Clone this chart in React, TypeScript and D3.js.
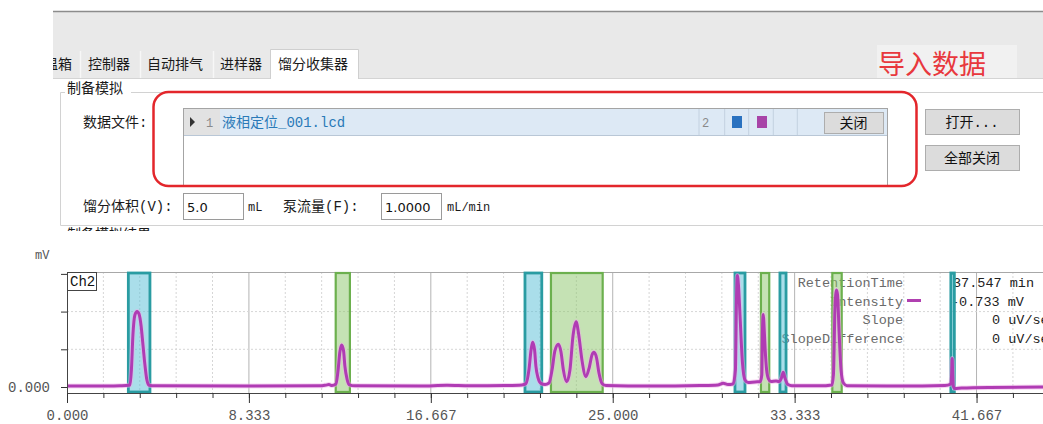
import * as React from 'react';
import {useEffect, useRef} from 'react';
import * as d3 from 'd3';

const W = 1043;
const H = 424;

// Ch2 trace, [min, mV]
const trace: [number, number][] = [
  [0.00, 0.5], [1.51, 0.5], [2.43, 0.7], [2.70, 0.8], [2.89, 1.1], [2.95, 9.0],
  [3.02, 27.6], [3.11, 38.2], [3.21, 40.1], [3.30, 38.7], [3.39, 32.9], [3.48, 22.3],
  [3.57, 11.7], [3.66, 3.7], [3.76, 0.9], [4.03, 0.6], [8.38, 0.5], [11.59, 0.6],
  [11.86, 1.0], [12.00, 1.3], [12.14, 0.8], [12.32, 1.6], [12.41, 8.0], [12.50, 18.6],
  [12.58, 22.3], [12.67, 19.1], [12.73, 11.1], [12.83, 4.2], [12.92, 1.3], [13.19, 0.6],
  [16.17, 0.5], [17.41, 0.9], [18.46, 0.6], [20.06, 0.8], [20.84, 1.1], [21.03, 1.9],
  [21.16, 9.0], [21.26, 19.6], [21.33, 23.7], [21.42, 19.6], [21.48, 11.1], [21.58, 4.8],
  [21.71, 1.9], [21.90, 1.3], [22.08, 2.1], [22.22, 9.0], [22.35, 19.1], [22.51, 22.7],
  [22.63, 18.6], [22.74, 9.0], [22.89, 2.8], [23.04, 9.0], [23.18, 27.1], [23.32, 34.6],
  [23.45, 27.1], [23.59, 14.3], [23.77, 5.5], [23.93, 10.6], [24.05, 17.0], [24.14, 18.4],
  [24.26, 15.4], [24.37, 7.4], [24.51, 1.9], [24.69, 0.8], [26.71, 0.5], [29.00, 0.8],
  [29.82, 1.1], [30.06, 2.0], [30.28, 1.3], [30.51, 1.6], [30.62, 9.0], [30.67, 46.2],
  [30.71, 59.2], [30.76, 54.1], [30.83, 38.2], [30.94, 13.3], [31.06, 3.7], [31.20, 2.4],
  [31.52, 2.7], [31.75, 2.8], [31.83, 6.4], [31.86, 30.2], [31.90, 38.5], [31.93, 32.9],
  [31.98, 20.7], [32.05, 9.0], [32.14, 4.2], [32.25, 2.9], [32.48, 3.2], [32.61, 2.9],
  [32.73, 4.8], [32.81, 7.8], [32.89, 4.8], [33.03, 1.3], [33.21, 0.7], [34.49, 0.6],
  [35.04, 1.1], [35.11, 6.4], [35.18, 40.8], [35.25, 51.5], [35.30, 48.8], [35.37, 29.3],
  [35.46, 9.0], [35.57, 2.1], [35.73, 0.7], [38.16, 0.5], [40.22, 0.8], [40.49, 1.6],
  [40.53, 8.0], [40.55, 15.1], [40.57, 8.0], [40.60, 0.5], [40.67, -0.8], [40.99, -0.5],
  [42.28, -0.2], [45.49, 0.0]
];

// fraction windows (min), b = blue, g = green
const fracStart = [2.81, 12.31, 20.98, 22.17, 30.60, 31.79, 32.66, 35.06, 40.49];
const fracEnd = [3.80, 12.96, 21.75, 24.54, 31.06, 32.17, 32.94, 35.49, 40.65];
const fracKind = ['b', 'g', 'b', 'g', 'b', 'g', 'b', 'g', 'b'];

const xTickValues = [0, 8.333, 16.667, 25, 33.333, 41.667];
const xTickLabels = ['0.000', '8.333', '16.667', '25.000', '33.333', '41.667'];
const yTickValues = [0, 20, 40, 60];
const yTickLabels = ['0.000', '', '', ''];

const tabNames = ['温箱', '控制器', '自动排气', '进样器', '馏分收集器'];
const legendLabels = ['RetentionTime', 'Intensity', 'Slope', 'SlopeDifference'];
const legendValues = ['37.547 min', '-0.733 mV', '0 uV/sec', '0 uV/sec'];

const cjk = "'Noto Sans CJK SC', sans-serif";
const mono = "'Liberation Mono', 'Noto Sans CJK SC', monospace";

const tabX = [44, 88, 147, 220, 278];
const tabSep = [80, 140, 213];
const gridCols = [699, 724.7, 748.7, 773.3, 797.3];
const legendValueX = [953, 951, 992, 992];

const Button = ({x, y, w, h, label}: any) => (
  <g>
    <rect x={x + 0.5} y={y + 0.5} width={w} height={h} fill="#dcdcdc" stroke="#adadad"/>
    <text x={x + w / 2} y={y + h / 2 + 5} textAnchor="middle" fontFamily={mono} fontSize={14} fill="#111">{label}</text>
  </g>
);

export default function App() {
  const ref = useRef<SVGGElement>(null);

  useEffect(() => {
    const g = d3.select(ref.current);
    g.selectAll('*').remove();

    const x = d3.scaleLinear().domain([0, 45.49]).range([67, 1060]);
    const y = d3.scaleLinear().domain([-3.18, 61.0]).range([393, 272]);
    const top = y.range()[1];
    const bottom = y.range()[0];

    const minor = d3.range(0, 28).map(i => i * 5 / 3);

    // grid
    g.append('g').selectAll('line')
      .data(minor.slice(1))
      .join('line')
      .attr('x1', d => x(d)).attr('x2', d => x(d))
      .attr('y1', top).attr('y2', bottom)
      .attr('stroke', (d, i) => (i + 1) % 5 === 0 ? '#b4b4b4' : '#d6d6d6')
      .attr('stroke-dasharray', (d, i) => (i + 1) % 5 === 0 ? null : '2,2');

    g.append('g').selectAll('line')
      .data(yTickValues.slice(1, 3))
      .join('line')
      .attr('x1', x(0)).attr('x2', W)
      .attr('y1', d => y(d)).attr('y2', d => y(d))
      .attr('stroke', '#d6d6d6')
      .attr('stroke-dasharray', '2,2');

    g.append('line')
      .attr('x1', x(0)).attr('x2', W)
      .attr('y1', top + 0.5).attr('y2', top + 0.5)
      .attr('stroke', '#a8a8a8');

    // cursor readout
    const leg = g.append('g').attr('font-family', mono).attr('font-size', 13.5);
    leg.selectAll('text.lbl')
      .data(legendLabels)
      .join('text')
      .attr('class', 'lbl')
      .attr('x', 903)
      .attr('y', (d, i) => 287 + i * 18.5)
      .attr('text-anchor', 'end')
      .attr('fill', '#6a6a6a')
      .text(d => d);
    leg.selectAll('text.val')
      .data(legendValues)
      .join('text')
      .attr('class', 'val')
      .attr('x', (d, i) => legendValueX[i])
      .attr('y', (d, i) => 287 + i * 18.5)
      .attr('fill', '#222')
      .text(d => d);
    leg.append('line')
      .attr('x1', 907).attr('x2', 921)
      .attr('y1', 300.5).attr('y2', 300.5)
      .attr('stroke', '#b040b0').attr('stroke-width', 3);

    // fraction windows
    g.append('g').selectAll('rect')
      .data(fracStart)
      .join('rect')
      .attr('x', d => x(d))
      .attr('y', top + 1)
      .attr('width', (d, i) => x(fracEnd[i]) - x(d))
      .attr('height', bottom - top - 2)
      .attr('fill', (d, i) => fracKind[i] === 'b' ? 'rgba(86,190,214,0.5)' : 'rgba(140,198,106,0.5)')
      .attr('stroke', (d, i) => fracKind[i] === 'b' ? '#2a9ca2' : '#6cb04e')
      .attr('stroke-width', (d, i) => fracKind[i] === 'b' ? 2.8 : 2.2);

    // trace
    const line = d3.line<[number, number]>()
      .x(d => x(d[0]))
      .y(d => y(d[1]))
      .curve(d3.curveMonotoneX);

    g.append('path')
      .datum(trace)
      .attr('d', line)
      .attr('fill', 'none')
      .attr('stroke', '#f0b0e8')
      .attr('stroke-width', 5)
      .attr('stroke-opacity', 0.5)
      .attr('stroke-linejoin', 'round');
    g.append('path')
      .datum(trace)
      .attr('d', line)
      .attr('fill', 'none')
      .attr('stroke', '#b03cb4')
      .attr('stroke-width', 3)
      .attr('stroke-linejoin', 'round');

    // axes
    const xMinor = g.append('g')
      .attr('transform', `translate(0,${bottom})`)
      .call(d3.axisBottom(x).tickValues(minor).tickSize(5).tickSizeOuter(0).tickFormat(() => ''));
    xMinor.select('.domain').attr('stroke', '#444');
    xMinor.selectAll('.tick line').attr('stroke', '#333');

    const xMajor = g.append('g')
      .attr('transform', `translate(0,${bottom})`)
      .call(d3.axisBottom(x).tickValues(xTickValues).tickSize(10).tickPadding(7)
        .tickFormat((d, i) => xTickLabels[i]));
    xMajor.select('.domain').remove();
    xMajor.selectAll('.tick line').attr('stroke', '#333');
    xMajor.selectAll('text')
      .attr('font-family', mono).attr('font-size', 14).attr('fill', '#555');

    const yAxis = g.append('g')
      .attr('transform', `translate(${x(0)},0)`)
      .call(d3.axisLeft(y).tickValues(yTickValues).tickSize(6).tickSizeOuter(0).tickPadding(11)
        .tickFormat((d, i) => yTickLabels[i]));
    yAxis.select('.domain').attr('stroke', '#444');
    yAxis.selectAll('.tick line').attr('stroke', '#333');
    yAxis.selectAll('text')
      .attr('font-family', mono).attr('font-size', 14).attr('fill', '#555');

    // channel tag
    g.append('rect')
      .attr('x', x(0) + 0.5).attr('y', top + 0.5)
      .attr('width', 29).attr('height', 18)
      .attr('fill', '#fff').attr('stroke', '#444');
    g.append('text')
      .attr('x', x(0) + 3).attr('y', top + 14)
      .attr('font-family', mono).attr('font-size', 14).attr('fill', '#111')
      .text('Ch2');
  }, []);

  return (
    <svg width={W} height={H} style={{position: 'absolute', left: 0, top: 0, background: '#fff'}}>
      <defs>
        <clipPath id="tabclip"><rect x={53} y={0} width={W} height={80}/></clipPath>
        <clipPath id="cutclip"><rect x={0} y={227} width={W} height={4}/></clipPath>
      </defs>

      {/* window strip and tabs */}
      <rect x={53} y={11} width={W - 53} height={67} fill="#e9e9e9"/>
      <line x1={53} x2={W} y1={11.5} y2={11.5} stroke="#8c8c8c" strokeWidth={1.5}/>
      <line x1={53} x2={W} y1={78.5} y2={78.5} stroke="#d4d4d4"/>
      <rect x={877} y={45} width={140} height={33} fill="#f1f1f1"/>
      <text x={878} y={74} fontFamily={cjk} fontSize={27} fill="#e8383d">导入数据</text>
      <g clipPath="url(#tabclip)">
        {tabSep.map((s, i) => (
          <line key={i} x1={s + 0.5} x2={s + 0.5} y1={51} y2={78} stroke="#f7f7f7" strokeWidth={1.5}/>
        ))}
        <path d="M270.5,79 V49.5 H358.5 V79" fill="#fff" stroke="#cfcfcf"/>
        {tabNames.map((t, i) => (
          <text key={t} x={tabX[i]} y={69} fontFamily={cjk} fontSize={14} fill="#1a1a1a">{t}</text>
        ))}
      </g>

      {/* group box */}
      <path d="M60.5,225.5 V92.5 H65 M131,92.5 H1043 M60.5,225.5 H1043" fill="none" stroke="#d2d2d2"/>
      <text x={67} y={93} fontFamily={cjk} fontSize={14} fill="#1a1a1a">制备模拟</text>
      <text x={83} y={127} fontFamily={mono} fontSize={14} fill="#1a1a1a">数据文件:</text>

      {/* data file grid */}
      <rect x={183.5} y={108.5} width={704} height={78} fill="#fff" stroke="#a4a4a4"/>
      <rect x={184} y={109} width={36} height={26} fill="#e2e2e2"/>
      <path d="M190,117 L195,122 L190,127 Z" fill="#333"/>
      <text x={206} y={127} fontFamily={mono} fontSize={12} fill="#8a8a8a">1</text>
      <rect x={220} y={109} width={667} height={26} fill="#dde9f5"/>
      <line x1={184} x2={887} y1={135.5} y2={135.5} stroke="#b9c7d6"/>
      {gridCols.map((c, i) => (
        <line key={i} x1={c} x2={c} y1={109} y2={135} stroke="#c3d1e0"/>
      ))}
      <text x={222} y={127} fontFamily={mono} fontSize={14} fill="#2a7ab8">液相定位_001.lcd</text>
      <text x={702} y={127} fontFamily={mono} fontSize={12} fill="#8a8a8a">2</text>
      <rect x={732} y={116} width={10} height={12} fill="#2a72c0"/>
      <rect x={757} y={116} width={10} height={12} fill="#a844a8"/>
      <Button x={824} y={112} w={59} h={21} label="关闭"/>

      <rect x={153.5} y={92} width={763} height={94} rx={15} ry={15} fill="none" stroke="#e3262b" strokeWidth={2.5}/>

      <Button x={925} y={109} w={94} h={25} label="打开..."/>
      <Button x={925} y={145} w={94} h={25} label="全部关闭"/>

      {/* fraction settings */}
      <text x={83} y={211} fontFamily={mono} fontSize={14} fill="#1a1a1a">馏分体积(V):</text>
      <rect x={183.5} y={193.5} width={60} height={26} fill="#fff" stroke="#9a9a9a"/>
      <text x={187} y={212} fontFamily="'DejaVu Sans', sans-serif" fontSize={13} fill="#111">5.0</text>
      <text x={248} y={211} fontFamily={mono} fontSize={12} fill="#1a1a1a">mL</text>
      <text x={283} y={211} fontFamily={mono} fontSize={14} fill="#1a1a1a">泵流量(F):</text>
      <rect x={381.5} y={193.5} width={60} height={26} fill="#fff" stroke="#9a9a9a"/>
      <text x={385} y={212} fontFamily="'DejaVu Sans', sans-serif" fontSize={13} fill="#111">1.0000</text>
      <text x={447} y={211} fontFamily={mono} fontSize={12} fill="#1a1a1a">mL/min</text>
      <text x={67} y={239} fontFamily={cjk} fontSize={14} fill="#1a1a1a" clipPath="url(#cutclip)">制备模拟结果</text>

      {/* chromatogram */}
      <text x={35} y={259} fontFamily={mono} fontSize={12} fill="#555">mV</text>
      <g ref={ref}/>
    </svg>
  );
}
